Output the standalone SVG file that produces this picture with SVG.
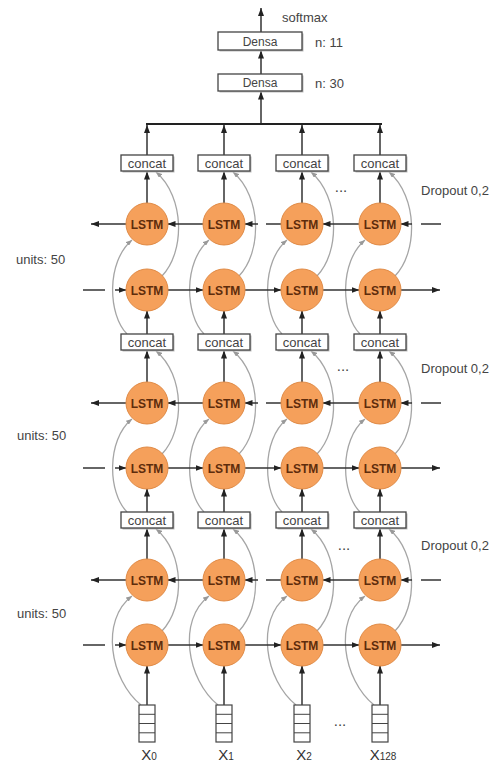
<svg xmlns="http://www.w3.org/2000/svg" width="496" height="762" viewBox="0 0 496 762">
<defs>
<marker id="ah" markerWidth="8" markerHeight="6" refX="8" refY="3" orient="auto" markerUnits="userSpaceOnUse"><path d="M0,0 L8,3 L0,6 z" fill="#222"/></marker>
<marker id="ag" markerWidth="6" markerHeight="5" refX="6" refY="2.5" orient="auto" markerUnits="userSpaceOnUse"><path d="M0,0 L6,2.5 L0,5 z" fill="#999"/></marker>
<style>
.lstm circle{fill:#F5A05B;stroke:#E08A45;stroke-width:1}
.lstm text{font-family:"Liberation Sans",Arial,sans-serif;font-size:12px;font-weight:bold;fill:#5e2c0c;text-anchor:middle}
.box rect.s{fill:#bbb}
.box rect.b{fill:#fff;stroke:#444;stroke-width:1.3}
.box text{font-family:"Liberation Sans",Arial,sans-serif;fill:#444;text-anchor:middle}
.cc text{font-size:13px}
.dn text{font-size:12px}
.ln{stroke:#333;stroke-width:1.5;fill:none}
.la{stroke:#333;stroke-width:1.5;fill:none;marker-end:url(#ah)}
.cv{stroke:#a5a5a5;stroke-width:1.3;fill:none;marker-end:url(#ag)}
.lbl{font-family:"Liberation Sans",Arial,sans-serif;font-size:13px;fill:#444}
.dots{font-family:"Liberation Sans",Arial,sans-serif;font-size:15px;fill:#444;text-anchor:middle}
.inp rect{fill:#fff;stroke:#444;stroke-width:1.2}
.inp line{stroke:#444;stroke-width:1}
.inp text{font-family:"Liberation Sans",Arial,sans-serif;font-size:15px;fill:#333;text-anchor:middle}
</style>
</defs>
<rect width="496" height="762" fill="#fff"/>

<g id="connectors">
<line class="la" x1="261" y1="32" x2="261" y2="8"/>
<line class="la" x1="261" y1="74" x2="261" y2="50.5"/>
<line class="la" x1="261" y1="124" x2="261" y2="91.5"/>
<line x1="146" y1="124" x2="382" y2="124" stroke="#222" stroke-width="2"/>
<line class="la" x1="147" y1="155" x2="147" y2="125"/>
<line class="la" x1="224" y1="155" x2="224" y2="125"/>
<line class="la" x1="302" y1="155" x2="302" y2="125"/>
<line class="la" x1="380" y1="155" x2="380" y2="125"/>

<line class="la" x1="147" y1="203.5" x2="147" y2="171.5"/>
<line class="la" x1="224" y1="203.5" x2="224" y2="171.5"/>
<line class="la" x1="302" y1="203.5" x2="302" y2="171.5"/>
<line class="la" x1="380" y1="203.5" x2="380" y2="171.5"/>
<line class="la" x1="147" y1="334" x2="147" y2="310.5"/>
<line class="la" x1="224" y1="334" x2="224" y2="310.5"/>
<line class="la" x1="302" y1="334" x2="302" y2="310.5"/>
<line class="la" x1="380" y1="334" x2="380" y2="310.5"/>
<path class="cv" d="M127,334 C108,315 106,262 132,240"/>
<path class="cv" d="M204,334 C185,315 183,262 209,240"/>
<path class="cv" d="M282,334 C263,315 261,262 287,240"/>
<path class="cv" d="M360,334 C341,315 339,262 365,240"/>
<path class="cv" d="M162,276 C185,252 185,197 156,172"/>
<path class="cv" d="M239,276 C262,252 262,197 233,172"/>
<path class="cv" d="M317,276 C340,252 340,197 311,172"/>
<path class="cv" d="M395,276 C418,252 418,197 389,172"/>
<line class="la" x1="126.5" y1="224" x2="91" y2="224"/>
<line class="la" x1="203.5" y1="224" x2="167.5" y2="224"/>
<line class="ln" x1="281.5" y1="224" x2="266" y2="224"/>
<line class="la" x1="258" y1="224" x2="244.5" y2="224"/>
<line class="la" x1="359.5" y1="224" x2="322.5" y2="224"/>
<line class="ln" x1="441" y1="224" x2="421" y2="224"/>
<line class="la" x1="412" y1="224" x2="400.5" y2="224"/>
<line class="ln" x1="83" y1="290" x2="105" y2="290"/>
<line class="la" x1="115" y1="290" x2="126.5" y2="290"/>
<line class="la" x1="167.5" y1="290" x2="203.5" y2="290"/>
<line class="la" x1="244.5" y1="290" x2="281.5" y2="290"/>
<line class="la" x1="322.5" y1="290" x2="359.5" y2="290"/>
<line class="la" x1="400.5" y1="290" x2="440" y2="290"/>

<line class="la" x1="147" y1="382.5" x2="147" y2="350.5"/>
<line class="la" x1="224" y1="382.5" x2="224" y2="350.5"/>
<line class="la" x1="302" y1="382.5" x2="302" y2="350.5"/>
<line class="la" x1="380" y1="382.5" x2="380" y2="350.5"/>
<line class="la" x1="147" y1="512" x2="147" y2="488.5"/>
<line class="la" x1="224" y1="512" x2="224" y2="488.5"/>
<line class="la" x1="302" y1="512" x2="302" y2="488.5"/>
<line class="la" x1="380" y1="512" x2="380" y2="488.5"/>
<path class="cv" d="M127,512 C108,493 106,440 132,419"/>
<path class="cv" d="M204,512 C185,493 183,440 209,419"/>
<path class="cv" d="M282,512 C263,493 261,440 287,419"/>
<path class="cv" d="M360,512 C341,493 339,440 365,419"/>
<path class="cv" d="M162,454 C185,430 185,375 156,351"/>
<path class="cv" d="M239,454 C262,430 262,375 233,351"/>
<path class="cv" d="M317,454 C340,430 340,375 311,351"/>
<path class="cv" d="M395,454 C418,430 418,375 389,351"/>
<line class="la" x1="126.5" y1="403" x2="91" y2="403"/>
<line class="la" x1="203.5" y1="403" x2="167.5" y2="403"/>
<line class="ln" x1="281.5" y1="403" x2="266" y2="403"/>
<line class="la" x1="258" y1="403" x2="244.5" y2="403"/>
<line class="la" x1="359.5" y1="403" x2="322.5" y2="403"/>
<line class="ln" x1="441" y1="403" x2="421" y2="403"/>
<line class="la" x1="412" y1="403" x2="400.5" y2="403"/>
<line class="ln" x1="83" y1="468" x2="105" y2="468"/>
<line class="la" x1="115" y1="468" x2="126.5" y2="468"/>
<line class="la" x1="167.5" y1="468" x2="203.5" y2="468"/>
<line class="la" x1="244.5" y1="468" x2="281.5" y2="468"/>
<line class="la" x1="322.5" y1="468" x2="359.5" y2="468"/>
<line class="la" x1="400.5" y1="468" x2="440" y2="468"/>

<line class="la" x1="147" y1="559.5" x2="147" y2="528.5"/>
<line class="la" x1="224" y1="559.5" x2="224" y2="528.5"/>
<line class="la" x1="302" y1="559.5" x2="302" y2="528.5"/>
<line class="la" x1="380" y1="559.5" x2="380" y2="528.5"/>
<line class="la" x1="147" y1="705" x2="147" y2="665.5"/>
<line class="la" x1="224" y1="705" x2="224" y2="665.5"/>
<line class="la" x1="302" y1="705" x2="302" y2="665.5"/>
<line class="la" x1="380" y1="705" x2="380" y2="665.5"/>
<path class="cv" d="M141,705 C110,680 100,620 132,596"/>
<path class="cv" d="M218,705 C187,680 177,620 209,596"/>
<path class="cv" d="M296,705 C265,680 255,620 287,596"/>
<path class="cv" d="M374,705 C343,680 333,620 365,596"/>
<path class="cv" d="M162,631 C185,607 185,553 156,529"/>
<path class="cv" d="M239,631 C262,607 262,553 233,529"/>
<path class="cv" d="M317,631 C340,607 340,553 311,529"/>
<path class="cv" d="M395,631 C418,607 418,553 389,529"/>
<line class="la" x1="126.5" y1="580" x2="91" y2="580"/>
<line class="la" x1="203.5" y1="580" x2="167.5" y2="580"/>
<line class="ln" x1="281.5" y1="580" x2="266" y2="580"/>
<line class="la" x1="258" y1="580" x2="244.5" y2="580"/>
<line class="la" x1="359.5" y1="580" x2="322.5" y2="580"/>
<line class="ln" x1="441" y1="580" x2="421" y2="580"/>
<line class="la" x1="412" y1="580" x2="400.5" y2="580"/>
<line class="ln" x1="83" y1="645" x2="105" y2="645"/>
<line class="la" x1="115" y1="645" x2="126.5" y2="645"/>
<line class="la" x1="167.5" y1="645" x2="203.5" y2="645"/>
<line class="la" x1="244.5" y1="645" x2="281.5" y2="645"/>
<line class="la" x1="322.5" y1="645" x2="359.5" y2="645"/>
<line class="la" x1="400.5" y1="645" x2="440" y2="645"/>
</g>

<g id="densa1" class="box dn"><rect class="s" x="219.5" y="33.5" width="84" height="18"/><rect class="b" x="218" y="32" width="84" height="18"/><text x="260" y="45.5">Densa</text></g>
<g id="densa2" class="box dn"><rect class="s" x="219.5" y="75.5" width="84" height="17"/><rect class="b" x="218" y="74" width="84" height="17"/><text x="260" y="87">Densa</text></g>

<g id="concat-0-0" class="box cc"><rect class="s" x="122.5" y="156.5" width="52" height="16"/><rect class="b" x="121" y="155" width="52" height="16"/><text x="147" y="167.5">concat</text></g>
<g id="concat-0-1" class="box cc"><rect class="s" x="199.5" y="156.5" width="52" height="16"/><rect class="b" x="198" y="155" width="52" height="16"/><text x="224" y="167.5">concat</text></g>
<g id="concat-0-2" class="box cc"><rect class="s" x="277.5" y="156.5" width="52" height="16"/><rect class="b" x="276" y="155" width="52" height="16"/><text x="302" y="167.5">concat</text></g>
<g id="concat-0-3" class="box cc"><rect class="s" x="355.5" y="156.5" width="52" height="16"/><rect class="b" x="354" y="155" width="52" height="16"/><text x="380" y="167.5">concat</text></g>
<g id="concat-1-0" class="box cc"><rect class="s" x="122.5" y="335.5" width="52" height="16"/><rect class="b" x="121" y="334" width="52" height="16"/><text x="147" y="346.5">concat</text></g>
<g id="concat-1-1" class="box cc"><rect class="s" x="199.5" y="335.5" width="52" height="16"/><rect class="b" x="198" y="334" width="52" height="16"/><text x="224" y="346.5">concat</text></g>
<g id="concat-1-2" class="box cc"><rect class="s" x="277.5" y="335.5" width="52" height="16"/><rect class="b" x="276" y="334" width="52" height="16"/><text x="302" y="346.5">concat</text></g>
<g id="concat-1-3" class="box cc"><rect class="s" x="355.5" y="335.5" width="52" height="16"/><rect class="b" x="354" y="334" width="52" height="16"/><text x="380" y="346.5">concat</text></g>
<g id="concat-2-0" class="box cc"><rect class="s" x="122.5" y="513.5" width="52" height="16"/><rect class="b" x="121" y="512" width="52" height="16"/><text x="147" y="524.5">concat</text></g>
<g id="concat-2-1" class="box cc"><rect class="s" x="199.5" y="513.5" width="52" height="16"/><rect class="b" x="198" y="512" width="52" height="16"/><text x="224" y="524.5">concat</text></g>
<g id="concat-2-2" class="box cc"><rect class="s" x="277.5" y="513.5" width="52" height="16"/><rect class="b" x="276" y="512" width="52" height="16"/><text x="302" y="524.5">concat</text></g>
<g id="concat-2-3" class="box cc"><rect class="s" x="355.5" y="513.5" width="52" height="16"/><rect class="b" x="354" y="512" width="52" height="16"/><text x="380" y="524.5">concat</text></g>

<g id="lstm-b0-0" class="lstm"><circle cx="147" cy="224" r="21"/><text x="147" y="228.5">LSTM</text></g>
<g id="lstm-b0-1" class="lstm"><circle cx="224" cy="224" r="21"/><text x="224" y="228.5">LSTM</text></g>
<g id="lstm-b0-2" class="lstm"><circle cx="302" cy="224" r="21"/><text x="302" y="228.5">LSTM</text></g>
<g id="lstm-b0-3" class="lstm"><circle cx="380" cy="224" r="21"/><text x="380" y="228.5">LSTM</text></g>
<g id="lstm-f0-0" class="lstm"><circle cx="147" cy="290" r="21"/><text x="147" y="294.5">LSTM</text></g>
<g id="lstm-f0-1" class="lstm"><circle cx="224" cy="290" r="21"/><text x="224" y="294.5">LSTM</text></g>
<g id="lstm-f0-2" class="lstm"><circle cx="302" cy="290" r="21"/><text x="302" y="294.5">LSTM</text></g>
<g id="lstm-f0-3" class="lstm"><circle cx="380" cy="290" r="21"/><text x="380" y="294.5">LSTM</text></g>
<g id="lstm-b1-0" class="lstm"><circle cx="147" cy="403" r="21"/><text x="147" y="407.5">LSTM</text></g>
<g id="lstm-b1-1" class="lstm"><circle cx="224" cy="403" r="21"/><text x="224" y="407.5">LSTM</text></g>
<g id="lstm-b1-2" class="lstm"><circle cx="302" cy="403" r="21"/><text x="302" y="407.5">LSTM</text></g>
<g id="lstm-b1-3" class="lstm"><circle cx="380" cy="403" r="21"/><text x="380" y="407.5">LSTM</text></g>
<g id="lstm-f1-0" class="lstm"><circle cx="147" cy="468" r="21"/><text x="147" y="472.5">LSTM</text></g>
<g id="lstm-f1-1" class="lstm"><circle cx="224" cy="468" r="21"/><text x="224" y="472.5">LSTM</text></g>
<g id="lstm-f1-2" class="lstm"><circle cx="302" cy="468" r="21"/><text x="302" y="472.5">LSTM</text></g>
<g id="lstm-f1-3" class="lstm"><circle cx="380" cy="468" r="21"/><text x="380" y="472.5">LSTM</text></g>
<g id="lstm-b2-0" class="lstm"><circle cx="147" cy="580" r="21"/><text x="147" y="584.5">LSTM</text></g>
<g id="lstm-b2-1" class="lstm"><circle cx="224" cy="580" r="21"/><text x="224" y="584.5">LSTM</text></g>
<g id="lstm-b2-2" class="lstm"><circle cx="302" cy="580" r="21"/><text x="302" y="584.5">LSTM</text></g>
<g id="lstm-b2-3" class="lstm"><circle cx="380" cy="580" r="21"/><text x="380" y="584.5">LSTM</text></g>
<g id="lstm-f2-0" class="lstm"><circle cx="147" cy="645" r="21"/><text x="147" y="649.5">LSTM</text></g>
<g id="lstm-f2-1" class="lstm"><circle cx="224" cy="645" r="21"/><text x="224" y="649.5">LSTM</text></g>
<g id="lstm-f2-2" class="lstm"><circle cx="302" cy="645" r="21"/><text x="302" y="649.5">LSTM</text></g>
<g id="lstm-f2-3" class="lstm"><circle cx="380" cy="645" r="21"/><text x="380" y="649.5">LSTM</text></g>

<g id="input-0" class="inp"><rect x="139" y="705" width="16" height="37"/><line x1="139" y1="714.3" x2="155" y2="714.3"/><line x1="139" y1="723.5" x2="155" y2="723.5"/><line x1="139" y1="732.8" x2="155" y2="732.8" stroke-width="2"/><text x="149" y="760">X<tspan font-size="10">0</tspan></text></g>
<g id="input-1" class="inp"><rect x="216" y="705" width="16" height="37"/><line x1="216" y1="714.3" x2="232" y2="714.3"/><line x1="216" y1="723.5" x2="232" y2="723.5" stroke-width="2"/><line x1="216" y1="732.8" x2="232" y2="732.8"/><text x="226" y="760">X<tspan font-size="10">1</tspan></text></g>
<g id="input-2" class="inp"><rect x="294" y="705" width="16" height="37"/><line x1="294" y1="714.3" x2="310" y2="714.3"/><line x1="294" y1="723.5" x2="310" y2="723.5" stroke-width="2"/><line x1="294" y1="732.8" x2="310" y2="732.8"/><text x="304" y="760">X<tspan font-size="10">2</tspan></text></g>
<g id="input-3" class="inp"><rect x="372" y="705" width="16" height="37"/><line x1="372" y1="714.3" x2="388" y2="714.3"/><line x1="372" y1="723.5" x2="388" y2="723.5" stroke-width="2"/><line x1="372" y1="732.8" x2="388" y2="732.8"/><text x="383" y="760">X<tspan font-size="10">128</tspan></text></g>

<text class="lbl" x="282" y="22" font-size="14" fill="#555">softmax</text>
<text class="lbl" x="315" y="47">n: 11</text>
<text class="lbl" x="315" y="88">n: 30</text>
<text class="lbl" x="421" y="195">Dropout 0,2</text>
<text class="lbl" x="421" y="373">Dropout 0,2</text>
<text class="lbl" x="421" y="550">Dropout 0,2</text>
<text class="lbl" x="16" y="264">units: 50</text>
<text class="lbl" x="17" y="440">units: 50</text>
<text class="lbl" x="17" y="618">units: 50</text>
<text class="dots" x="341" y="192">...</text>
<text class="dots" x="343" y="371">...</text>
<text class="dots" x="344" y="550">...</text>
<text class="dots" x="340" y="726">...</text>
</svg>
